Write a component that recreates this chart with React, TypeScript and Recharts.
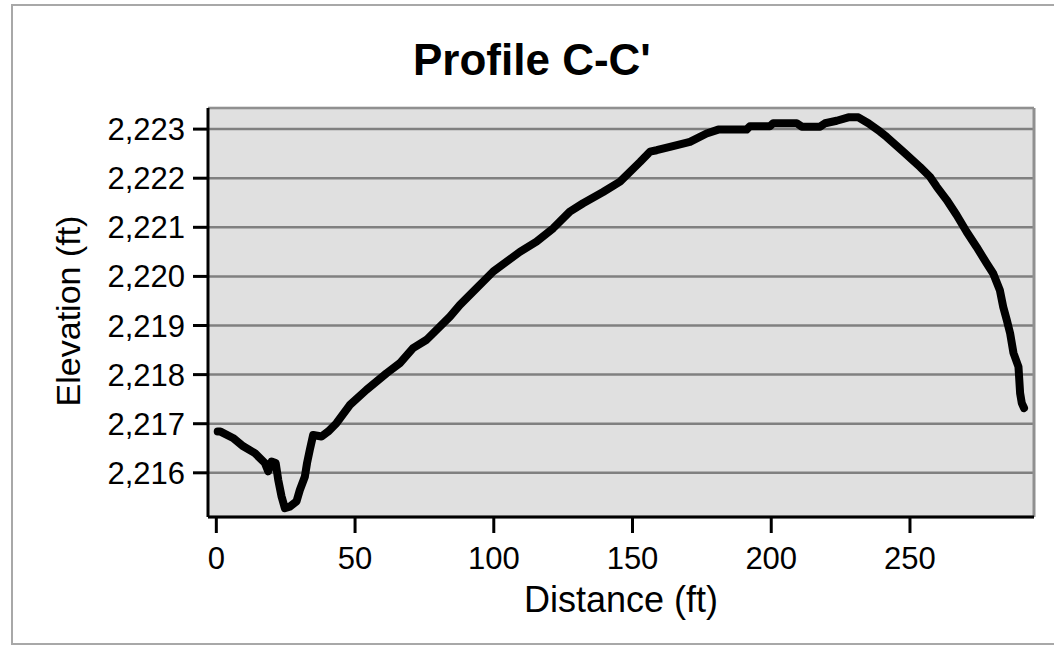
import {
  LineChart,
  Line,
  XAxis,
  YAxis,
  CartesianGrid,
  ReferenceLine,
  Customized,
} from 'recharts'

const distance = [
  0.5, 1.5, 6, 9.7, 13.9, 17.5, 18.7, 19.9, 21.4, 22.3,
  23.5, 24.7, 26.5, 28.9, 30.1, 31.9, 32.7, 33.7, 34.9, 37.9,
  40.3, 43.3, 48.1, 54.1, 61.4, 66.1, 70.9, 75.8, 84.2, 87.8,
  99.8, 109.4, 115.4, 121.4, 127.4, 132.2, 139.4, 145.5, 152.7, 156.3,
  158.7, 163.5, 170.7, 176.7, 180.9, 191.1, 192.3, 199.5, 200.7, 209.2,
  211, 217.6, 219.4, 223.6, 227.8, 231.4, 235, 239.2, 241.6, 247.6,
  253.6, 257.2, 259.6, 263.2, 266.8, 270.4, 274, 277.6, 280, 282.4,
  283.6, 284.9, 286.1, 287.3, 289.1, 289.7, 290.3, 291.1,
]
const elevation = [
  2216.84, 2216.84, 2216.71, 2216.54, 2216.4, 2216.2, 2216.03, 2216.23, 2216.2, 2215.86,
  2215.52, 2215.28, 2215.31, 2215.42, 2215.65, 2215.92, 2216.2, 2216.47, 2216.77, 2216.74,
  2216.84, 2217.01, 2217.38, 2217.69, 2218.03, 2218.23, 2218.54, 2218.71, 2219.18, 2219.42,
  2220.1, 2220.5, 2220.71, 2220.98, 2221.32, 2221.49, 2221.72, 2221.93, 2222.33, 2222.54,
  2222.57, 2222.64, 2222.74, 2222.91, 2222.99, 2222.99, 2223.06, 2223.06, 2223.12, 2223.12,
  2223.05, 2223.05, 2223.12, 2223.17, 2223.24, 2223.24, 2223.12, 2222.95, 2222.84, 2222.54,
  2222.23, 2222.03, 2221.83, 2221.56, 2221.25, 2220.91, 2220.6, 2220.27, 2220.06, 2219.72,
  2219.38, 2219.11, 2218.84, 2218.44, 2218.16, 2217.62, 2217.42, 2217.32,
]

const xTicks = [0, 50, 100, 150, 200, 250]
const yTicks = [2216, 2217, 2218, 2219, 2220, 2221, 2222, 2223]

const X_MIN = -3
const X_MAX = 294.7
const Y_MIN = 2215.1
const Y_MAX = 2223.43

const data = distance.map((d, i) => ({ distance: d, elevation: elevation[i] }))

const FONT = '"Liberation Sans", Arial, Helvetica, sans-serif'

function Titles() {
  return (
    <g fontFamily={FONT} fill="#000">
      <text x={413} y={75} fontSize={44} fontWeight="bold">
        Profile C-C'
      </text>
      <text
        x={80}
        y={311}
        fontSize={34}
        textAnchor="middle"
        transform="rotate(-90 80 311)"
      >
        Elevation (ft)
      </text>
      <text x={621} y={612} fontSize={36} textAnchor="middle">
        Distance (ft)
      </text>
    </g>
  )
}

export default function App() {
  return (
    <div
      style={{
        position: 'absolute',
        left: 0,
        top: 0,
        width: 1054,
        height: 645,
        background: '#fff',
        overflow: 'hidden',
      }}
    >
      <div
        style={{
          position: 'absolute',
          left: 11,
          top: 4,
          width: 1070,
          height: 641,
          border: '2px solid #a8a8a8',
          boxSizing: 'border-box',
        }}
      />
      <div style={{ position: 'absolute', left: 0, top: 0 }}>
        <LineChart
          width={1054}
          height={645}
          data={data}
          margin={{ top: 108, right: 20, bottom: 0, left: 0 }}
        >
          <CartesianGrid
            vertical={false}
            stroke="#808080"
            strokeWidth={2.5}
            fill="#e0e0e0"
            fillOpacity={1}
          />
          <ReferenceLine y={Y_MAX} stroke="#909090" strokeWidth={2} />
          <ReferenceLine x={X_MAX} stroke="#909090" strokeWidth={3} />
          <XAxis
            dataKey="distance"
            type="number"
            domain={[X_MIN, X_MAX]}
            ticks={xTicks}
            allowDataOverflow
            height={128}
            axisLine={{ stroke: '#000', strokeWidth: 3 }}
            tickLine={{ stroke: '#000', strokeWidth: 3 }}
            tickSize={16}
            tickMargin={14}
            tick={{ fill: '#000', fontSize: 31, fontFamily: FONT }}
          />
          <YAxis
            type="number"
            domain={[Y_MIN, Y_MAX]}
            ticks={yTicks}
            allowDataOverflow
            width={208}
            tickFormatter={(v: number) => v.toLocaleString('en-US')}
            axisLine={{ stroke: '#000', strokeWidth: 3 }}
            tickLine={{ stroke: '#000', strokeWidth: 3 }}
            tickSize={15}
            tickMargin={8}
            tick={{ fill: '#000', fontSize: 31, fontFamily: FONT }}
          />
          <Line
            type="linear"
            dataKey="elevation"
            stroke="#000"
            strokeWidth={8}
            strokeLinejoin="round"
            strokeLinecap="round"
            dot={false}
            activeDot={false}
            isAnimationActive={false}
          />
          <Customized component={Titles} />
        </LineChart>
      </div>
    </div>
  )
}
